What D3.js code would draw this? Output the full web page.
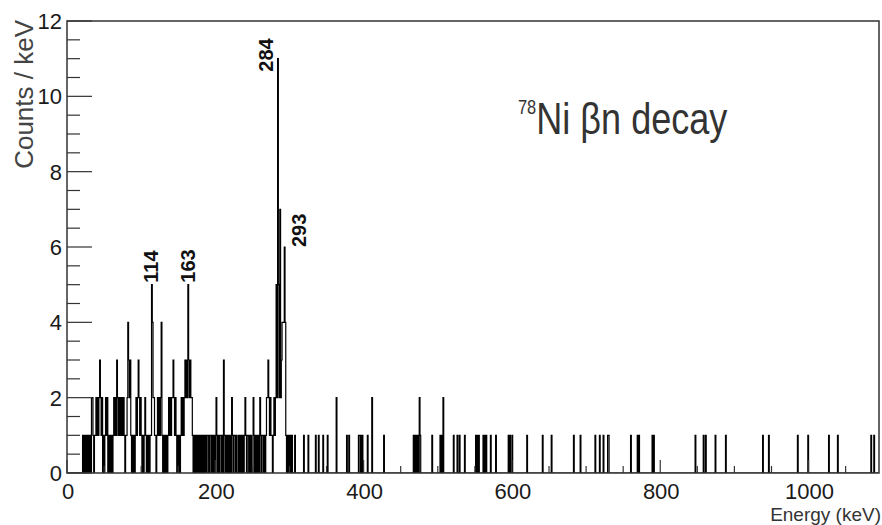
<!DOCTYPE html>
<html>
<head>
<meta charset="utf-8">
<script src="https://cdn.jsdelivr.net/npm/d3@7"></script>
<style>
  body { margin: 0; background: #fff; }
  svg { display: block; font-family: "Liberation Sans", Arial, sans-serif; }
  .frame { fill: none; stroke: #333; stroke-width: 1.5; }
  .tick line { stroke: #333; stroke-width: 1.2; }
  .ticklabel { font-size: 22px; fill: #1a1a1a; }
  .peak { font-size: 20px; font-weight: bold; fill: #111; }
</style>
</head>
<body>
<svg id="chart" width="882" height="525"></svg>
<script>
// 1 keV bins, counts for 0..309 keV (dense part of the spectrum)
const lowCounts = [
  0,0,0,0,0,0,0,0,0,0,    // 0
  0,0,0,0,0,0,0,0,0,0,    // 10
  0,1,0,1,0,1,0,1,0,1,    // 20
  0,1,0,2,2,1,0,1,1,2,    // 30
  1,2,1,2,3,2,1,2,0,1,    // 40
  0,1,2,1,2,0,1,0,1,0,    // 50
  1,0,1,2,1,2,1,3,2,1,    // 60
  2,1,2,1,2,1,2,1,0,1,    // 70
  1,2,4,3,2,3,1,0,1,0,    // 80
  1,0,1,2,1,2,3,2,1,2,    // 90
  1,0,1,0,1,2,1,0,1,0,    // 100
  1,0,1,1,5,4,2,2,1,1,    // 110
  0,1,2,1,2,1,2,4,1,0,    // 120
  1,0,1,0,1,0,1,2,1,2,    // 130
  1,2,2,3,2,1,2,1,0,1,    // 140
  0,1,0,1,2,1,2,1,2,3,    // 150
  2,3,2,5,3,2,3,2,2,1,    // 160
  0,1,0,1,0,1,0,1,0,1,    // 170
  0,1,0,1,0,1,0,1,0,1,    // 180
  1,0,1,1,0,1,0,1,0,1,    // 190
  0,2,1,0,1,0,1,1,0,1,    // 200
  0,3,1,0,1,0,1,0,1,0,    // 210
  1,0,2,1,0,1,1,0,1,0,    // 220
  0,1,0,1,0,1,0,1,0,1,    // 230
  2,1,0,1,1,0,1,0,1,0,    // 240
  0,2,1,0,1,0,1,0,1,0,    // 250
  2,1,0,1,1,0,1,0,1,2,    // 260
  2,3,2,1,2,1,1,0,1,2,    // 270
  1,2,5,2,11,5,2,7,2,3,   // 280
  4,4,4,6,4,1,0,1,0,1,    // 290
  0,1,0,1,0,0,0,1,0,0     // 300
];

// sparse part above 310 keV: bin energy and counts
const highEnergy = [319, 325, 335, 339, 345, 351, 363, 377, 380, 393, 394, 396, 398, 405, 411, 427,
  467, 469, 471, 473, 475, 476, 492, 503, 505, 507, 521, 526, 529, 536, 551, 553, 555, 561, 563, 565,
  571, 578, 595, 597, 600, 620, 641, 653, 683, 692, 712, 718, 723, 729, 730, 760, 769, 771, 789, 791,
  847, 858, 861, 874, 888, 938, 946, 985, 999, 1027, 1039, 1084, 1088];
const highCounts = [1, 1, 1, 1, 1, 1, 2, 1, 1, 1, 1, 1, 1, 1, 2, 1,
  1, 1, 1, 1, 2, 1, 1, 1, 1, 2, 1, 1, 1, 1, 1, 1, 1, 1, 1, 1,
  1, 1, 1, 1, 1, 1, 1, 1, 1, 1, 1, 1, 1, 1, 1, 1, 1, 1, 1, 1,
  1, 1, 1, 1, 1, 1, 1, 1, 1, 1, 1, 1, 1];

const peakEnergy = [114, 163, 284, 293];
const peakCounts = [5, 5, 11, 6];

const xTickValues = [0, 200, 400, 600, 800, 1000];
const yTickValues = [0, 2, 4, 6, 8, 10, 12];
const xMax = 1095, yMax = 12;

const svg = d3.select('#chart');
const x = d3.scaleLinear().domain([0, xMax]).range([67, 879]);
const y = d3.scaleLinear().domain([0, yMax]).range([473, 21]);

// fill the full bin list
var counts = new Array(xMax).fill(0);
lowCounts.forEach(function(c, i) { counts[i] = c; });
highEnergy.forEach(function(e, i) { counts[e] = highCounts[i]; });

// histogram outline, ROOT style (steps)
var pts = [[0, 0]];
counts.forEach(function(c, i) { pts.push([i, c]); pts.push([i + 1, c]); });
pts.push([xMax, 0]);

svg.append('clipPath').attr('id', 'plotclip').append('rect')
  .attr('x', x(0)).attr('y', y(yMax)).attr('width', x(xMax) - x(0)).attr('height', y(0) - y(yMax));

svg.append('path').datum(pts)
  .attr('clip-path', 'url(#plotclip)')
  .attr('fill', 'none').attr('stroke', '#000').attr('stroke-width', 1.2)
  .attr('d', d3.line().x(function(d) { return x(d[0]); }).y(function(d) { return y(d[1]); }));

// ticks: major + minor on both axes
var gy = svg.append('g').attr('class', 'tick');
gy.selectAll('line').data(d3.range(0, yMax + 0.01, 0.5)).enter().append('line')
  .attr('x1', x(0)).attr('x2', function(d) { return x(0) + (d % 2 === 0 ? 25 : 13); })
  .attr('y1', function(d) { return y(d); }).attr('y2', function(d) { return y(d); });
var gx = svg.append('g').attr('class', 'tick');
gx.selectAll('line').data(d3.range(0, xMax, 50)).enter().append('line')
  .attr('x1', function(d) { return x(d); }).attr('x2', function(d) { return x(d); })
  .attr('y1', y(0)).attr('y2', function(d) { return y(0) - (d % 200 === 0 ? 13 : 7); });

// frame
svg.append('rect').attr('class', 'frame')
  .attr('x', x(0)).attr('y', y(yMax)).attr('width', x(xMax) - x(0)).attr('height', y(0) - y(yMax));

// tick labels
svg.selectAll('text.ylab').data(yTickValues).enter().append('text')
  .attr('class', 'ticklabel').attr('text-anchor', 'end')
  .attr('x', 62).attr('y', function(d) { return y(d); }).attr('dy', '0.36em')
  .text(function(d) { return d; });
svg.selectAll('text.xlab').data(xTickValues).enter().append('text')
  .attr('class', 'ticklabel').attr('text-anchor', 'middle')
  .attr('x', function(d) { return x(d) + 1; }).attr('y', 499)
  .text(function(d) { return d; });

// axis titles
svg.append('text').attr('transform', 'translate(33,20) rotate(-90)')
  .attr('text-anchor', 'end').attr('font-size', 26).attr('fill', '#444')
  .text('Counts / keV');
svg.append('text').attr('x', 881).attr('y', 521)
  .attr('text-anchor', 'end').attr('font-size', 19).attr('fill', '#333')
  .text('Energy (keV)');

// peak labels (rotated); 284 sits left of its line, 293 to the right
var peakShift = { 114: [-1, -2], 163: [0, -2], 284: [-12, 13], 293: [15, 0] };
svg.selectAll('text.peak').data(peakEnergy).enter().append('text')
  .attr('class', 'peak')
  .attr('transform', function(d, i) {
    return 'translate(' + (x(d) + peakShift[d][0]) + ',' + (y(peakCounts[i]) + peakShift[d][1]) + ') rotate(-90)';
  })
  .attr('dy', '0.36em')
  .text(function(d) { return d; });

// title
var title = svg.append('text').attr('transform', 'translate(518,134) scale(0.82,1)')
  .attr('fill', '#333').attr('font-size', 44);
title.append('tspan').attr('font-size', 20).attr('dy', -20).text('78');
title.append('tspan').attr('dy', 20).text('Ni βn decay');
</script>
</body>
</html>
